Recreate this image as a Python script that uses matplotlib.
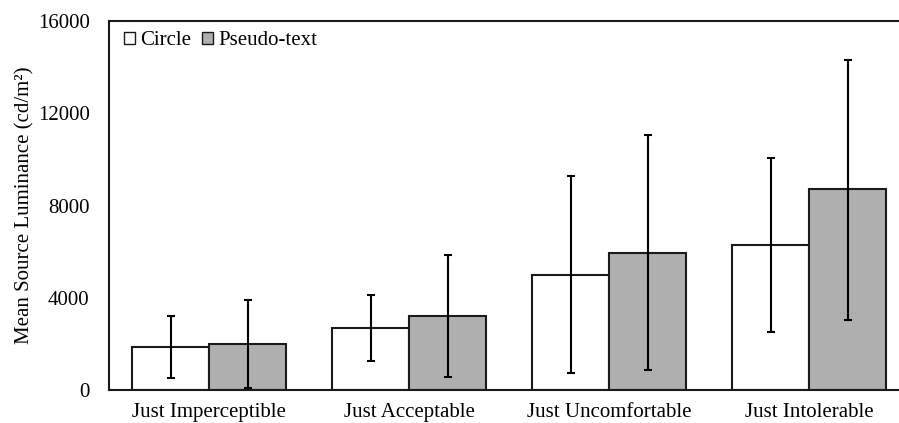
import numpy as np
import matplotlib
matplotlib.use('Agg')
import matplotlib.pyplot as plt
from matplotlib.patches import Patch

# data
categories = ['Just Imperceptible', 'Just Acceptable', 'Just Uncomfortable', 'Just Intolerable']
circle_mean = [1880, 2700, 4990, 6290]
circle_lo = [520, 1270, 720, 2530]
circle_hi = [3220, 4100, 9290, 10070]
pseudo_mean = [2010, 3220, 5950, 8720]
pseudo_lo = [100, 580, 850, 3040]
pseudo_hi = [3900, 5850, 11060, 14310]

plt.rcParams['font.family'] = ['Liberation Serif', 'DejaVu Serif']

fig = plt.figure(figsize=(8.99, 4.23), dpi=100)
ax = fig.add_axes([109/899, 1 - 390/423, 800/899, 369/423])

x = np.arange(len(categories))
w = 0.385
cm = np.array(circle_mean)
pm = np.array(pseudo_mean)
c_err = [cm - np.array(circle_lo), np.array(circle_hi) - cm]
p_err = [pm - np.array(pseudo_lo), np.array(pseudo_hi) - pm]

ax.bar(x - w/2, cm, w, color='white', edgecolor='#1a1a1a', linewidth=1.5, zorder=2)
ax.bar(x + w/2, pm, w, color='#afafaf', edgecolor='#1a1a1a', linewidth=1.5, zorder=2)
ax.errorbar(x - w/2, cm, yerr=c_err, fmt='none', ecolor='black', elinewidth=1.5,
            capsize=3, capthick=1.5, zorder=3)
ax.errorbar(x + w/2, pm, yerr=p_err, fmt='none', ecolor='black', elinewidth=1.5,
            capsize=3, capthick=1.5, zorder=3)

ax.set_xlim(-0.5, 3.5)
ax.set_ylim(0, 16000)
ax.set_yticks([0, 4000, 8000, 12000, 16000])
ax.set_xticks(x)
ax.set_xticklabels(categories, fontsize=15)
ax.tick_params(axis='y', length=0, pad=14, labelsize=15)
ax.tick_params(axis='x', length=0, pad=9)
ax.set_ylabel('Mean Source Luminance (cd/m²)', fontsize=15)
ax.yaxis.set_label_coords(-0.093, 0.5)
for s in ['left', 'top', 'bottom', 'right']:
    ax.spines[s].set_linewidth(1.5)
    ax.spines[s].set_color('#1a1a1a')

handles = [Patch(facecolor='white', edgecolor='#1a1a1a', linewidth=1.0),
           Patch(facecolor='#afafaf', edgecolor='#1a1a1a', linewidth=1.0)]
ax.legend(handles, ['Circle', 'Pseudo-text'], loc='upper left', frameon=False,
          ncol=2, fontsize=15, handlelength=0.5, handleheight=0.5, handletextpad=0.25,
          columnspacing=0.55, borderaxespad=0.1, bbox_to_anchor=(0.006, 1.0))

fig.savefig('out.png', dpi=100)
